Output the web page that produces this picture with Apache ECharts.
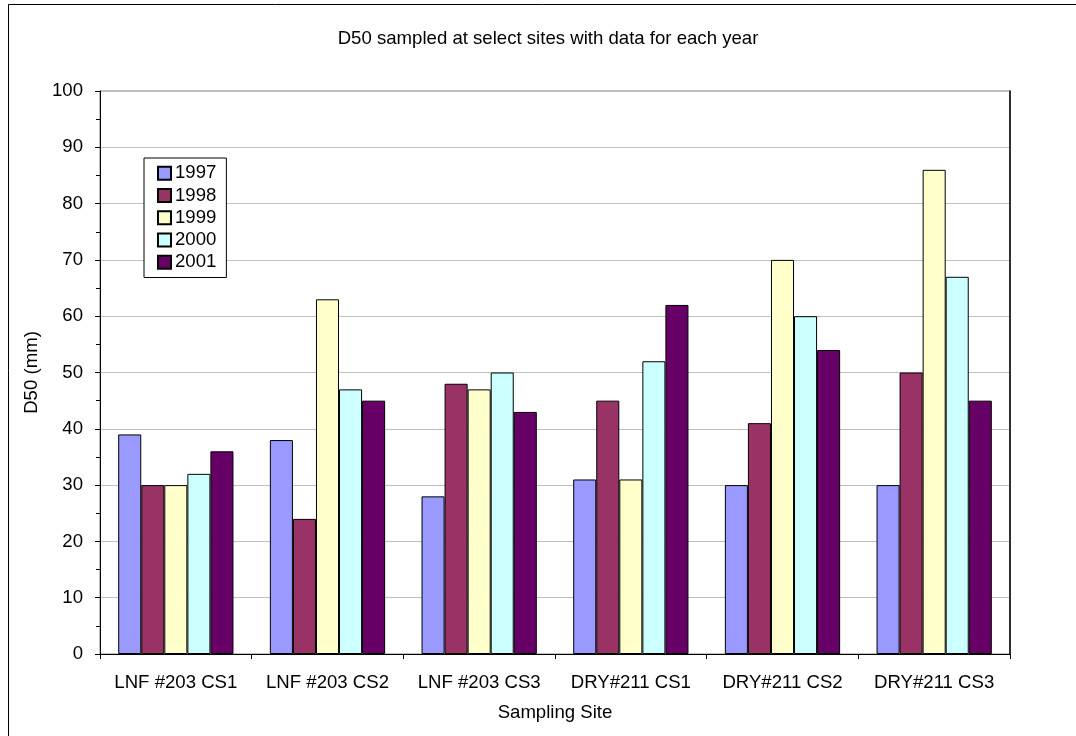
<!DOCTYPE html>
<html>
<head>
<meta charset="utf-8">
<script src="https://cdn.jsdelivr.net/npm/echarts@6/dist/echarts.min.js"></script>
<style>
  html, body { margin: 0; padding: 0; background: #fff; }
  #chart { width: 1076px; height: 736px; }
</style>
</head>
<body>
<div id="chart"></div>
<script>
// Sampling sites along the category axis
const sites = ['LNF #203 CS1', 'LNF #203 CS2', 'LNF #203 CS3', 'DRY#211 CS1', 'DRY#211 CS2', 'DRY#211 CS3'];

// D50 (mm) per year, one value per site
const years = ['1997', '1998', '1999', '2000', '2001'];
const d50_1997 = [39, 38, 28, 31, 30, 30];
const d50_1998 = [30, 24, 48, 45, 41, 50];
const d50_1999 = [30, 63, 47, 31, 70, 86];
const d50_2000 = [32, 47, 50, 52, 60, 67];
const d50_2001 = [36, 45, 43, 62, 54, 45];

const yearColors = ['#9999FF', '#993366', '#FFFFCC', '#CCFFFF', '#660066'];
const yearValues = [d50_1997, d50_1998, d50_1999, d50_2000, d50_2001];

const FONT = '"Liberation Sans", Arial, sans-serif';
const FS = 18.6;

const chart = echarts.init(document.getElementById('chart'), null, { renderer: 'canvas' });

const series = years.map((y, i) => ({
  name: y,
  type: 'bar',
  data: yearValues[i],
  barGap: '0%',
  barCategoryGap: '24%',
  itemStyle: { color: yearColors[i], borderColor: '#000', borderWidth: 1 },
  emphasis: { disabled: true },
  animation: false
}));

chart.setOption({
  backgroundColor: '#fff',
  animation: false,
  textStyle: { fontFamily: FONT },
  title: {
    text: 'D50 sampled at select sites with data for each year',
    left: 543, top: 24, textAlign: 'center',
    textStyle: { fontFamily: FONT, fontSize: FS, fontWeight: 'normal', color: '#000' }
  },
  legend: {
    orient: 'vertical',
    left: 144, top: 158,
    padding: [4, 10, 4, 13],
    itemGap: 0,
    itemWidth: 13, itemHeight: 13,
    icon: 'rect',
    backgroundColor: '#fff',
    borderColor: '#000', borderWidth: 1,
    textStyle: { fontFamily: FONT, fontSize: FS, color: '#000', lineHeight: 22.3, padding: [0, 0, 0, -1] },
    data: years
  },
  grid: {
    left: 100, top: 91, right: 66, bottom: 82,
    show: true, borderColor: '#808080', borderWidth: 1, backgroundColor: '#fff'
  },
  xAxis: {
    type: 'category',
    data: sites,
    name: 'Sampling Site',
    nameLocation: 'middle',
    nameGap: 49,
    nameTextStyle: { fontFamily: FONT, fontSize: FS, color: '#000' },
    axisLine: { lineStyle: { color: '#000', width: 1 } },
    axisTick: { show: true, length: 5, lineStyle: { color: '#000' } },
    axisLabel: { fontFamily: FONT, fontSize: FS, color: '#000', margin: 19, interval: 0 },
    splitLine: { show: false }
  },
  yAxis: [{
    type: 'value',
    min: 0, max: 100, interval: 10,
    name: 'D50 (mm)',
    nameLocation: 'middle',
    nameGap: 57,
    nameTextStyle: { fontFamily: FONT, fontSize: FS, color: '#000' },
    axisLine: { show: true, lineStyle: { color: '#000', width: 1 } },
    axisTick: { show: true, length: 5, lineStyle: { color: '#000' } },
    minorTick: { show: true, splitNumber: 2, length: 4, lineStyle: { color: '#000' } },
    axisLabel: { fontFamily: FONT, fontSize: FS, color: '#000', margin: 17 },
    splitLine: { show: true, lineStyle: { color: '#C0C0C0', width: 1 } }
  }, {
    type: 'value',
    position: 'right',
    min: 0, max: 100, interval: 10,
    axisLine: { show: true, lineStyle: { color: '#000', width: 1.5 } },
    axisTick: { show: false },
    axisLabel: { show: false },
    splitLine: { show: false }
  }],
  series: series,
  graphic: [{
    type: 'rect',
    shape: { x: 8.5, y: 4.5, width: 1100, height: 800 },
    style: { fill: 'none', stroke: '#000', lineWidth: 1 },
    silent: true,
    z: 100
  }]
});
</script>
</body>
</html>
